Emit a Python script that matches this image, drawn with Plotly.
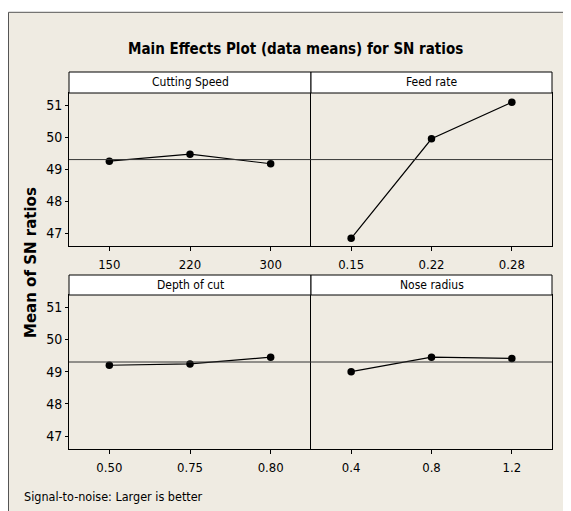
import plotly.graph_objects as go

# ---- data ----
title_text = "Main Effects Plot (data means) for SN ratios"
y_title = "Mean of SN ratios"
note_text = "Signal-to-noise: Larger is better"
factors = ["Cutting Speed", "Feed rate", "Depth of cut", "Nose radius"]
speed_levels = ["150", "220", "300"]
speed_means = [49.25, 49.47, 49.17]
feed_levels = ["0.15", "0.22", "0.28"]
feed_means = [46.84, 49.95, 51.09]
depth_levels = ["0.50", "0.75", "0.80"]
depth_means = [49.20, 49.24, 49.45]
nose_levels = ["0.4", "0.8", "1.2"]
nose_means = [49.00, 49.45, 49.41]
grand_mean = 49.30
y_ticks = [47, 48, 49, 50, 51]

W, H = 571, 511
OFF = 8  # page body margin offset
NARROW = "DejaVu Sans Condensed, DejaVu Sans, sans-serif"
BG = "#EFEBE2"

def px_x(v):
    return (v - OFF) / W

def px_y(v):
    return 1 - (v - OFF) / H

cols = [(69, 311), (311, 552)]
rows = [(93, 246), (295, 449)]
strips = [(72, 93), (275, 295)]

panels = [
    (speed_levels, speed_means),
    (feed_levels, feed_means),
    (depth_levels, depth_means),
    (nose_levels, nose_means),
]

fig = go.Figure()
shapes = []
annotations = []

# outer frame (beige area)
shapes.append(dict(type="rect", xref="paper", yref="paper",
                   x0=px_x(8.5), x1=1.05, y0=-0.05, y1=px_y(12.3),
                   fillcolor=BG, line=dict(color="#555555", width=1), layer="below"))

for i, (levels, means) in enumerate(panels):
    r, c = divmod(i, 2)
    n = i + 1
    xa = "x" if n == 1 else f"x{n}"
    ya = "y" if n == 1 else f"y{n}"
    fig.add_trace(go.Scatter(
        x=levels, y=means, mode="lines+markers", xaxis=xa, yaxis=ya,
        marker=dict(color="black", size=7.5),
        line=dict(color="black", width=1.2), showlegend=False,
        hoverinfo="x+y"))
    x0, x1 = cols[c]
    y0, y1 = rows[r]
    fig.layout[f"xaxis{'' if n == 1 else n}"] = dict(
        domain=[px_x(x0), px_x(x1)], anchor=ya, type="category",
        range=[-0.5, 2.5], showline=True, linecolor="black", linewidth=1,
        mirror=True, ticks="outside", ticklen=4, tickcolor="black",
        ticklabelstandoff=2,
        showgrid=False, zeroline=False, fixedrange=True,
        tickfont=dict(family=NARROW, size=13, color="black"))
    fig.layout[f"yaxis{'' if n == 1 else n}"] = dict(
        domain=[px_y(y1), px_y(y0)], anchor=xa,
        range=[46.6, 51.38], tickvals=y_ticks,
        showline=True, linecolor="black", linewidth=1,
        mirror=(c == 1),
        ticks="outside" if c == 0 else "", ticklen=3, tickcolor="black",
        showticklabels=(c == 0), showgrid=False, zeroline=False,
        fixedrange=True,
        tickfont=dict(family=NARROW, size=14, color="black"))
    # reference line at grand mean
    shapes.append(dict(type="line", xref=f"{xa} domain", yref=ya,
                       x0=0, x1=1, y0=grand_mean, y1=grand_mean,
                       line=dict(color="#333333", width=1)))
    # strip
    s0, s1 = strips[r]
    shapes.append(dict(type="rect", xref="paper", yref="paper",
                       x0=px_x(x0), x1=px_x(x1), y0=px_y(s1), y1=px_y(s0),
                       fillcolor="white", line=dict(color="black", width=1)))
    annotations.append(dict(xref="paper", yref="paper",
                            x=px_x((x0 + x1) / 2), y=px_y((s0 + s1) / 2),
                            text=factors[i], showarrow=False,
                            xanchor="center", yanchor="middle",
                            font=dict(family=NARROW, size=12, color="black")))

annotations.append(dict(xref="paper", yref="paper", x=px_x(295), y=px_y(49.3),
                        text=f"<b>{title_text}</b>", showarrow=False,
                        xanchor="center", yanchor="middle",
                        font=dict(family=NARROW, size=15, color="black")))
annotations.append(dict(xref="paper", yref="paper", x=px_x(31.7), y=px_y(262.3),
                        text=f"<b>{y_title}</b>", showarrow=False, textangle=-90,
                        xanchor="center", yanchor="middle",
                        font=dict(family="DejaVu Sans, Verdana, sans-serif", size=15, color="black")))
annotations.append(dict(xref="paper", yref="paper", x=px_x(21.7), y=px_y(496),
                        text=note_text, showarrow=False,
                        xanchor="left", yanchor="middle",
                        font=dict(family=NARROW, size=12.5, color="black")))

fig.update_layout(
    width=W, height=H, margin=dict(l=0, r=0, t=0, b=0),
    paper_bgcolor="white", plot_bgcolor="white",
    shapes=shapes, annotations=annotations, showlegend=False,
)

fig.write_html("out.html", config={"displayModeBar": False})
